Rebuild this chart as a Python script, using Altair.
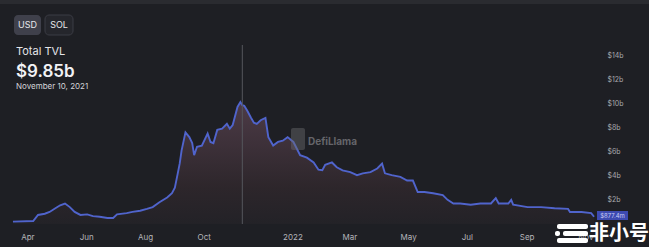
import altair as alt
import pandas as pd

# ---- data ----
dates = [
    "2021-03-17", "2021-04-07", "2021-04-12", "2021-04-19", "2021-04-24", "2021-04-30",
    "2021-05-05", "2021-05-10", "2021-05-15", "2021-05-20", "2021-05-26", "2021-06-02",
    "2021-06-08", "2021-06-15", "2021-06-23", "2021-06-29", "2021-07-03", "2021-07-13",
    "2021-07-19", "2021-07-27", "2021-08-03", "2021-08-09", "2021-08-16", "2021-08-24",
    "2021-08-29", "2021-09-01", "2021-09-04", "2021-09-06", "2021-09-08", "2021-09-12",
    "2021-09-16", "2021-09-19", "2021-09-21", "2021-09-24", "2021-09-29", "2021-10-05",
    "2021-10-08", "2021-10-11", "2021-10-15", "2021-10-20", "2021-10-25", "2021-10-28",
    "2021-10-31", "2021-11-05", "2021-11-08", "2021-11-10", "2021-11-12", "2021-11-15",
    "2021-11-19", "2021-11-22", "2021-11-25", "2021-11-29", "2021-12-04", "2021-12-07",
    "2021-12-12", "2021-12-17", "2021-12-22", "2021-12-27", "2022-01-02", "2022-01-09",
    "2022-01-16", "2022-01-23", "2022-01-28", "2022-02-01", "2022-02-04", "2022-02-11",
    "2022-02-16", "2022-02-22", "2022-03-02", "2022-03-09", "2022-03-15", "2022-03-23",
    "2022-03-30", "2022-04-04", "2022-04-07", "2022-04-14", "2022-04-23", "2022-04-30",
    "2022-05-06", "2022-05-11", "2022-05-18", "2022-05-27", "2022-06-06", "2022-06-11",
    "2022-06-17", "2022-06-24", "2022-07-05", "2022-07-15", "2022-07-26", "2022-07-31",
    "2022-08-03", "2022-08-13", "2022-08-16", "2022-08-18", "2022-09-02", "2022-09-16",
    "2022-09-30", "2022-10-14", "2022-10-16", "2022-10-28", "2022-11-07", "2022-11-10",
]
tvl_b = [
    0.20, 0.25, 0.75, 0.85, 1.00, 1.30,
    1.55, 1.70, 1.40, 1.00, 0.75, 0.80,
    0.65, 0.60, 0.50, 0.50, 0.80, 0.90,
    1.00, 1.10, 1.25, 1.40, 1.80, 2.20,
    2.55, 3.00, 4.20, 5.00, 6.10, 7.60,
    7.20, 6.70, 5.70, 6.40, 6.50, 7.50,
    6.80, 6.70, 7.80, 7.90, 8.30, 7.90,
    8.20, 9.70, 10.10, 9.85, 9.80, 9.40,
    8.80, 8.40, 8.30, 8.60, 8.80, 7.20,
    6.50, 6.80, 6.90, 7.20, 6.80, 5.70,
    5.50, 5.10, 4.50, 4.45, 4.90, 5.10,
    4.70, 4.45, 4.30, 4.05, 4.20, 4.30,
    4.60, 5.00, 4.20, 4.05, 3.90, 3.60,
    3.60, 2.65, 2.65, 2.55, 2.40, 2.00,
    1.70, 1.70, 1.60, 1.70, 1.70, 2.15,
    1.70, 1.70, 2.00, 1.60, 1.40, 1.40,
    1.30, 1.25, 1.00, 1.00, 0.90, 0.60,
]
y_ticks = [2, 4, 6, 8, 10, 12, 14]
x_ticks = [(2021, 4), (2021, 6), (2021, 8), (2021, 10), (2022, 1),
           (2022, 3), (2022, 5), (2022, 7), (2022, 9), (2022, 11)]
hover_date = "2021-11-10"
title_text = "Total TVL"
value_text = "$9.85b"
date_text = "November 10, 2021"
last_label = "$877.4m"

df = pd.DataFrame({"date": dates, "tvl": tvl_b})

BG = "#1e1f24"
FONT = "Inter"
W, H = 584, 181

xscale = alt.Scale(type="utc",
                   domain=[alt.DateTime(year=2021, month=3, date=16, utc=True),
                           alt.DateTime(year=2022, month=11, date=12, utc=True)])
yscale = alt.Scale(domain=[0, 15], nice=False)

xaxis = alt.Axis(
    values=[alt.DateTime(year=y, month=m, date=1, utc=True) for y, m in x_ticks],
    labelExpr="utcFormat(datum.value, '%m') == '01' ? utcFormat(datum.value, '%Y') : utcFormat(datum.value, '%b')",
    labelColor="#b5b5ba", labelFontSize=8, labelFont=FONT, labelPadding=9,
    labelOverlap=False,
    domain=False, ticks=False, grid=False, title=None,
)
yaxis = alt.Axis(
    orient="right", values=y_ticks,
    labelExpr="'$' + datum.value + 'b'",
    labelColor="#a9a9ae", labelFontSize=7, labelFont=FONT, labelPadding=11,
    labelOverlap=False, labelSeparation=0,
    domain=False, ticks=False, grid=False, title=None,
)

base = alt.Chart(df)
area = base.mark_area(
    interpolate="linear",
    color=alt.Gradient(
        gradient="linear", x1=0, x2=0, y1=0, y2=1,
        stops=[alt.GradientStop(color="#4d3b47", offset=0),
               alt.GradientStop(color="#2d262b", offset=0.7),
               alt.GradientStop(color="#232227", offset=1)],
    ),
).encode(
    x=alt.X("date:T", scale=xscale, axis=xaxis),
    y=alt.Y("tvl:Q", scale=yscale, axis=yaxis),
)
line = base.mark_line(color="#5064cc", strokeWidth=1.9).encode(
    x=alt.X("date:T", scale=xscale, axis=xaxis),
    y=alt.Y("tvl:Q", scale=yscale, axis=yaxis),
)

rule_df = pd.DataFrame({"date": [hover_date]})
rule = alt.Chart(rule_df).mark_rule(color="#55565c", strokeWidth=1).encode(
    x=alt.X("date:T", scale=xscale, axis=xaxis),
    y=alt.value(2), y2=alt.value(H),
)

one = pd.DataFrame({"k": [0]})

def rect(x, x2, y, y2, **kw):
    return alt.Chart(one).mark_rect(**kw).encode(
        x=alt.value(x), x2=alt.value(x2), y=alt.value(y), y2=alt.value(y2))

def text(t, x, y, **kw):
    return alt.Chart(one).mark_text(text=t, **kw).encode(x=alt.value(x), y=alt.value(y))

# top strip
top = rect(-12, W + 53, -43, -39, color="#2a2b30")
# currency buttons
usd_btn = rect(2, 29, -28, -8, color="#3f404b", cornerRadius=4)
sol_btn = rect(33, 61, -28, -8, color="#25262c", stroke="#3b3c44", strokeWidth=1, cornerRadius=4)
usd_t = text("USD", 15.5, -18, color="#e6e6ea", fontSize=9, font=FONT, align="center", baseline="middle")
sol_t = text("SOL", 47, -18, color="#e6e6ea", fontSize=9, font=FONT, align="center", baseline="middle")
# header texts
t1 = text(title_text, 4, 9, color="#e4e4e8", fontSize=11, font=FONT, align="left", baseline="middle")
t2 = text(value_text, 4, 29, color="#f2f2f5", fontSize=17, font=FONT, fontWeight=600, align="left", baseline="middle")
t3 = text(date_text, 4, 44, color="#d4d4d8", fontSize=8, font=FONT, align="left", baseline="middle")
# DefiLlama watermark
wm_icon = rect(279, 293, 85, 107, color="#6a6a6e", opacity=0.45, cornerRadius=2)
wm_text = text("DefiLlama", 296, 99, color="#77777c", opacity=0.8, fontSize=10, font=FONT,
               fontWeight=700, align="left", baseline="middle")
# last value label on the axis
last_box = rect(585, 616, 168, 177, color="#3d4ab0")
last_t = text(last_label, 600.5, 172.5, color="#c8cdf5", fontSize=6, font=FONT, align="center", baseline="middle")
# 非小号 watermark
bar1 = rect(545, 576, 181, 186, color="#ffffff", cornerRadius=2)
bar2 = rect(551, 576, 188, 193, color="#ffffff", cornerRadius=2)
bar3 = rect(545, 576, 195, 200, color="#ffffff", cornerRadius=2)
dot = rect(543, 548, 188, 193, color="#ffffff", cornerRadius=2)
fxh = text("非小号", 607, 191, color="#ffffff", fontSize=20, font="Noto Sans CJK SC",
           fontWeight=700, align="center", baseline="middle")

chart = alt.layer(
    top, area, line, rule, usd_btn, sol_btn, usd_t, sol_t, t1, t2, t3,
    wm_icon, wm_text, last_box, last_t, bar1, bar2, bar3, dot, fxh,
).properties(
    width=W, height=H,
    background=BG,
    padding={"left": 12, "top": 43, "right": 53, "bottom": 23},
    autosize=alt.AutoSizeParams(type="none"),
).configure_view(stroke=None).configure_axis(labelOverlap=False)

chart.save("out.html", embed_options={"renderer": "svg", "actions": False})
